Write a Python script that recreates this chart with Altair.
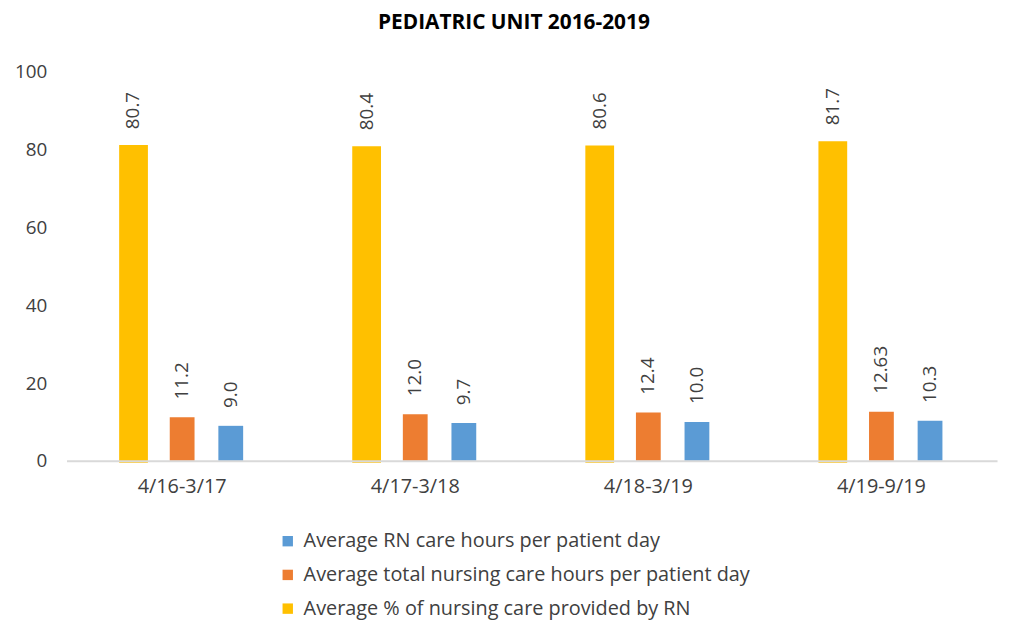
import altair as alt
import pandas as pd

periods = ["4/16-3/17", "4/17-3/18", "4/18-3/19", "4/19-9/19"]
series = [
    "Average RN care hours per patient day",
    "Average total nursing care hours per patient day",
    "Average % of nursing care provided by RN",
]
rn_hours = [9.0, 9.7, 10.0, 10.3]
total_hours = [11.2, 12.0, 12.4, 12.63]
pct_rn = [80.7, 80.4, 80.6, 81.7]
rn_labels = ["9.0", "9.7", "10.0", "10.3"]
total_labels = ["11.2", "12.0", "12.4", "12.63"]
pct_labels = ["80.7", "80.4", "80.6", "81.7"]
colors = ["#5B9BD5", "#ED7D31", "#FFC000"]

rows = []
for s, vals, labs in zip(series, [rn_hours, total_hours, pct_rn], [rn_labels, total_labels, pct_labels]):
    for p, v, l in zip(periods, vals, labs):
        rows.append({"period": p, "series": s, "value": v, "label": l})
df = pd.DataFrame(rows)

offset_order = [series[2], series[1], series[0]]
FONT = "Open Sans"

x_enc = alt.X("period:N", sort=periods, scale=alt.Scale(paddingInner=0.268, paddingOuter=0.13),
              axis=alt.Axis(title=None, labelAngle=0, labelFontSize=20, labelFont=FONT,
                            labelColor="#404040", labelPadding=16, ticks=False,
                            domainColor="#D9D9D9", domainWidth=2, zindex=1))
xo_enc = alt.XOffset("series:N", sort=offset_order,
                     scale=alt.Scale(domain=offset_order, paddingInner=0.49, paddingOuter=0.5))
y_enc = alt.Y("value:Q", scale=alt.Scale(domain=[0, 100]),
              axis=alt.Axis(title=None, values=[0, 20, 40, 60, 80, 100], grid=False, domain=False,
                            ticks=False, labelFontSize=19, labelFont=FONT, labelColor="#404040",
                            labelPadding=20))
color_enc = alt.Color("series:N", scale=alt.Scale(domain=series, range=colors),
                      legend=alt.Legend(title=None, orient="none", legendX=213, legendY=463,
                                        direction="vertical", symbolType="square", symbolSize=110,
                                        symbolStrokeWidth=0, labelFontSize=20, labelFont=FONT,
                                        labelColor="#404040", rowPadding=14, labelLimit=700,
                                        symbolOffset=0, labelOffset=6))

base = alt.Chart(df)

bars_big = base.transform_filter(alt.datum.series == series[2]).mark_bar(
    stroke="#FFC000", strokeWidth=4).encode(x=x_enc, xOffset=xo_enc, y=y_enc, color=color_enc)
bars_small = base.transform_filter(alt.datum.series != series[2]).mark_bar().encode(
    x=x_enc, xOffset=xo_enc, y=y_enc, color=color_enc)
labels = base.mark_text(angle=270, align="left", baseline="middle", dx=18, fontSize=19,
                        font=FONT, color="#404040").encode(
    x=x_enc, xOffset=xo_enc, y=y_enc, text="label:N")

chart = alt.layer(bars_big, bars_small, labels).properties(
    width=938, height=392,
    title=alt.TitleParams("PEDIATRIC UNIT 2016-2019", fontSize=21, font=FONT, fontWeight="bold",
                          color="#000000", anchor="middle", offset=30, dx=-18),
    autosize=alt.AutoSizeParams(type="none"),
    padding={"left": 59, "top": 62, "right": 5, "bottom": 160},
).configure_view(stroke=None)

chart.save("out.html", embed_options={"renderer": "svg", "actions": False})
